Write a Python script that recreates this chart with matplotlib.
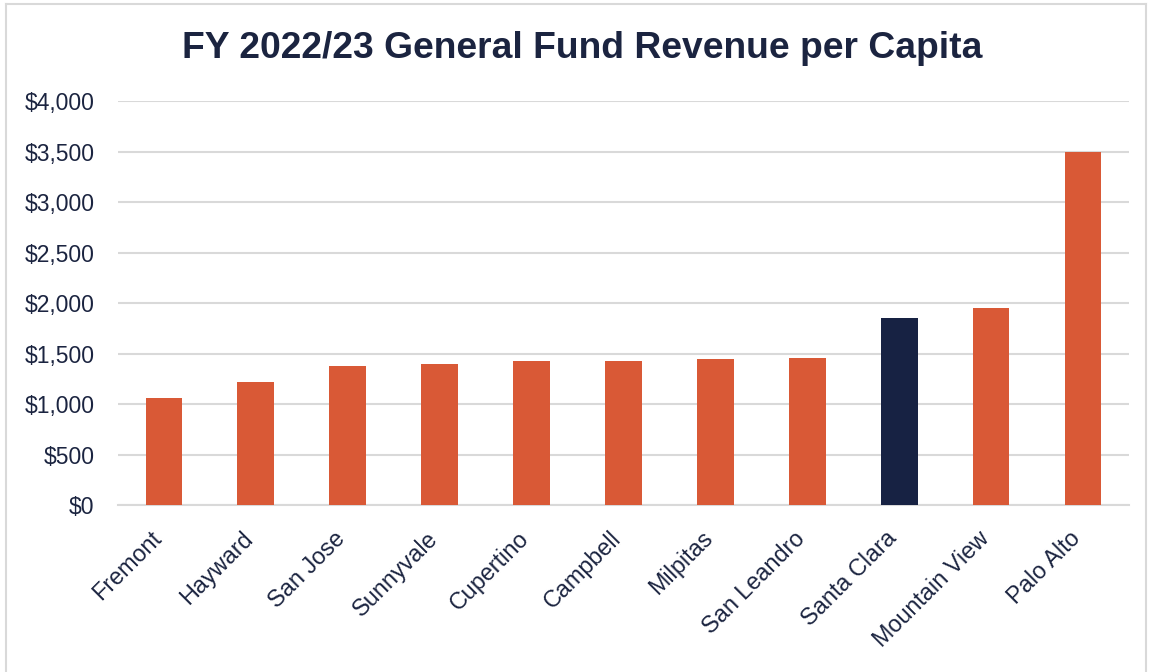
import matplotlib.pyplot as plt
from matplotlib.lines import Line2D
from matplotlib.transforms import ScaledTranslation

cities = ["Fremont", "Hayward", "San Jose", "Sunnyvale", "Cupertino", "Campbell",
          "Milpitas", "San Leandro", "Santa Clara", "Mountain View", "Palo Alto"]
revenue = [1062, 1217, 1381, 1395, 1425, 1428, 1447, 1457, 1854, 1950, 3495]
highlight = "Santa Clara"

ORANGE = "#D95936"
NAVY = "#172243"
TEXT = "#1B2440"
GRID = "#D9D9D9"

plt.rcParams['font.family'] = ['Liberation Sans', 'DejaVu Sans']

fig = plt.figure(figsize=(11.5, 6.72), dpi=100)
ax = fig.add_axes([0.1026, 0.2485, 0.8791, 0.6012])

colors = [NAVY if c == highlight else ORANGE for c in cities]
ax.bar(range(len(cities)), revenue, width=0.4, color=colors, zorder=3)

ax.set_xlim(-0.5, len(cities) - 0.5)
ax.set_ylim(0, 4000)
ax.set_yticks(range(0, 4001, 500))
ax.set_yticklabels([f"${v:,}" for v in range(0, 4001, 500)], fontsize=16.5, color=TEXT)
ax.set_xticks(range(len(cities)))
ax.set_xticklabels(cities, rotation=45, ha='right', rotation_mode='anchor',
                   fontsize=16.8, color=TEXT)
ax.tick_params(axis='both', length=0)
ax.tick_params(axis='y', pad=17)
ax.tick_params(axis='x', pad=10)

# nudge the rotated labels down-left a bit
offset = ScaledTranslation(-14 / 100, -8 / 100, fig.dpi_scale_trans)
for lbl in ax.get_xticklabels():
    lbl.set_transform(lbl.get_transform() + offset)

ax.grid(axis='y', color=GRID, linewidth=1.5, zorder=0)
for side in ['top', 'right', 'left']:
    ax.spines[side].set_visible(False)
ax.spines['bottom'].set_color(GRID)
ax.spines['bottom'].set_linewidth(1.5)

fig.text(0.506, 0.928, "FY 2022/23 General Fund Revenue per Capita", ha='center', va='center',
         fontsize=26.8, fontweight='bold', color=TEXT)

# light frame around the chart
W, H = 1150, 672
for xs, ys in [([6 / W, 6 / W], [0, 1 - 4 / H]), ([6 / W, 1146 / W], [1 - 4 / H, 1 - 4 / H]),
               ([1146 / W, 1146 / W], [0, 1 - 4 / H])]:
    fig.add_artist(Line2D(xs, ys, transform=fig.transFigure, color=GRID, linewidth=1.5))

fig.savefig("out.png", dpi=100)
